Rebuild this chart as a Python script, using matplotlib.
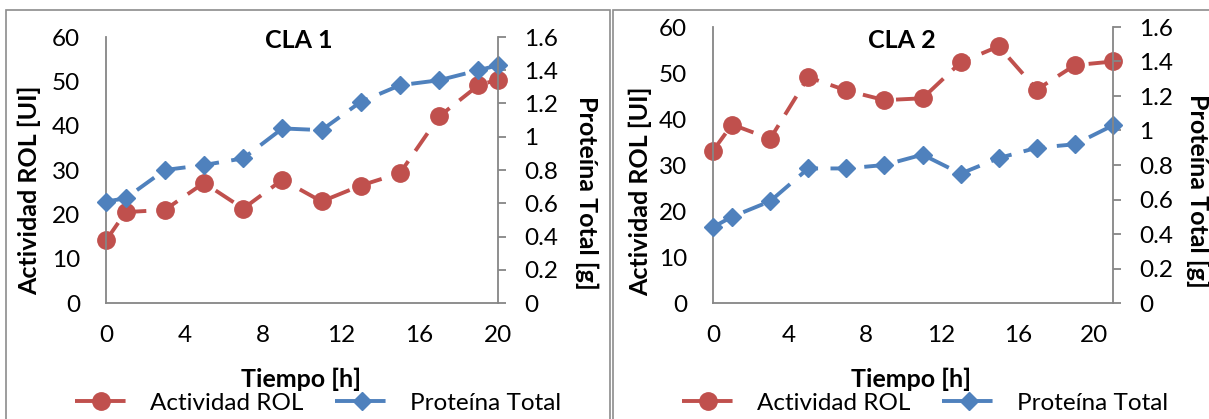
import matplotlib
matplotlib.use("Agg")
import matplotlib.pyplot as plt
from matplotlib.lines import Line2D
from matplotlib.patches import Rectangle

plt.rcParams['font.family'] = ['Lato', 'DejaVu Sans']

# ---------------- data ----------------
t1 = [0, 1, 3, 5, 7, 9, 11, 13, 15, 17, 19, 20]
rol1 = [14.1, 20.5, 21.0, 27.1, 21.3, 27.8, 22.9, 26.5, 29.3, 42.1, 49.1, 50.4]
prot1 = [0.61, 0.63, 0.80, 0.83, 0.87, 1.05, 1.04, 1.21, 1.31, 1.34, 1.40, 1.43]

t2 = [0, 1, 3, 5, 7, 9, 11, 13, 15, 17, 19, 21]
rol2 = [33.1, 38.8, 35.7, 49.1, 46.2, 44.1, 44.5, 52.3, 55.8, 46.4, 51.7, 52.5]
prot2 = [0.44, 0.50, 0.59, 0.78, 0.78, 0.80, 0.86, 0.75, 0.84, 0.90, 0.92, 1.03]

titles = ["CLA 1", "CLA 2"]
xticks = [0, 4, 8, 12, 16, 20]
yticks_left = [0, 10, 20, 30, 40, 50, 60]
yticks_right = [0, 0.2, 0.4, 0.6, 0.8, 1, 1.2, 1.4, 1.6]
yticklabels_right = ["0", "0.2", "0.4", "0.6", "0.8", "1", "1.2", "1.4", "1.6"]
series_names = ["Actividad ROL", "Proteína Total"]
xlabel = "Tiempo [h]"
ylabel_left = "Actividad ROL [UI]"
ylabel_right = "Proteína Total [g]"

# ---------------- style ----------------
W, H = 1209, 419
RED = "#C0504D"
BLUE = "#4F81BD"
AXC = "#868686"
FS = 17.5
FSB = 18

fig = plt.figure(figsize=(W / 100, H / 100), dpi=100)
fig.patch.set_facecolor("white")

def fx(px):
    return px / W

def fy(py):
    return 1 - py / H

# panel borders
fig.patches.append(Rectangle((fx(6), fy(430)), fx(610) - fx(6), fy(10) - fy(430),
                             transform=fig.transFigure, fill=False, ec="#8c8c8c", lw=1.2))
fig.patches.append(Rectangle((fx(613), fy(430)), fx(1215) - fx(613), fy(10) - fy(430),
                             transform=fig.transFigure, fill=False, ec="#8c8c8c", lw=1.2))

panels = [
    dict(t=t1, rol=rol1, prot=prot1, box=(106, 498, 37, 303), xmax=20,
         title=(299, 40), ylab_l=(29, 190), ylab_r=(587, 193), xlab=(301, 379), leg=(318, 403)),
    dict(t=t2, rol=rol2, prot=prot2, box=(713, 1113, 27, 303), xmax=21,
         title=(902, 40), ylab_l=(640, 191), ylab_r=(1198, 191), xlab=(911, 379), leg=(925, 403)),
]

line_kw = dict(lw=2.8, dashes=(5.5, 3.2), dash_capstyle="butt", clip_on=False)

for i, p in enumerate(panels):
    l, r, tp, bt = p["box"]
    ax = fig.add_axes([fx(l), fy(bt), fx(r) - fx(l), fy(tp) - fy(bt)])
    ax2 = ax.twinx()

    ax.plot(p["t"], p["rol"], color=RED, marker="o", ms=12.5, mec=RED, mfc=RED, **line_kw)
    ax2.plot(p["t"], p["prot"], color=BLUE, marker="D", ms=9.5, mec=BLUE, mfc=BLUE, **line_kw)

    ax.set_xlim(0, p["xmax"])
    ax.set_ylim(0, 60)
    ax2.set_ylim(0, 1.6)
    ax.set_xticks(xticks)
    ax.set_yticks(yticks_left)
    ax2.set_yticks(yticks_right)
    ax2.set_yticklabels(yticklabels_right)

    for a in (ax, ax2):
        a.set_facecolor("none")
        a.spines["top"].set_visible(False)
        for s in ("left", "right", "bottom"):
            a.spines[s].set_color(AXC)
            a.spines[s].set_linewidth(1.3)
    ax.spines["right"].set_visible(False)
    ax2.spines["left"].set_visible(False)
    ax2.spines["bottom"].set_visible(False)

    ax.tick_params(axis="y", length=0, pad=18.5, labelsize=FS)
    ax.tick_params(axis="x", length=0, pad=16, labelsize=FS)
    ax2.tick_params(axis="y", length=5.8, width=1.3, color=AXC, pad=13, labelsize=FS, direction="out")

    fig.text(fx(p["title"][0]), fy(p["title"][1]), titles[i], fontsize=FSB, fontweight="bold",
             ha="center", va="center")
    fig.text(fx(p["ylab_l"][0]), fy(p["ylab_l"][1]), ylabel_left, fontsize=FSB, fontweight="bold",
             ha="center", va="center", rotation=90)
    fig.text(fx(p["ylab_r"][0]), fy(p["ylab_r"][1]), ylabel_right, fontsize=FSB, fontweight="bold",
             ha="center", va="center", rotation=270)
    fig.text(fx(p["xlab"][0]), fy(p["xlab"][1]), xlabel, fontsize=FSB, fontweight="bold",
             ha="center", va="center")

    handles = [
        Line2D([], [], color=RED, marker="o", ms=12.5, lw=2.8, dashes=(6, 1)),
        Line2D([], [], color=BLUE, marker="D", ms=9.5, lw=2.8, dashes=(6, 1)),
    ]
    ax.legend(handles, series_names, loc="center", ncol=2, frameon=False,
              bbox_to_anchor=(fx(p["leg"][0]), fy(p["leg"][1])), bbox_transform=fig.transFigure,
              fontsize=FS, handlelength=2.2, handletextpad=0.9, columnspacing=1.3,
              borderpad=0, borderaxespad=0)

fig.savefig("out.png", dpi=100, facecolor="white")
